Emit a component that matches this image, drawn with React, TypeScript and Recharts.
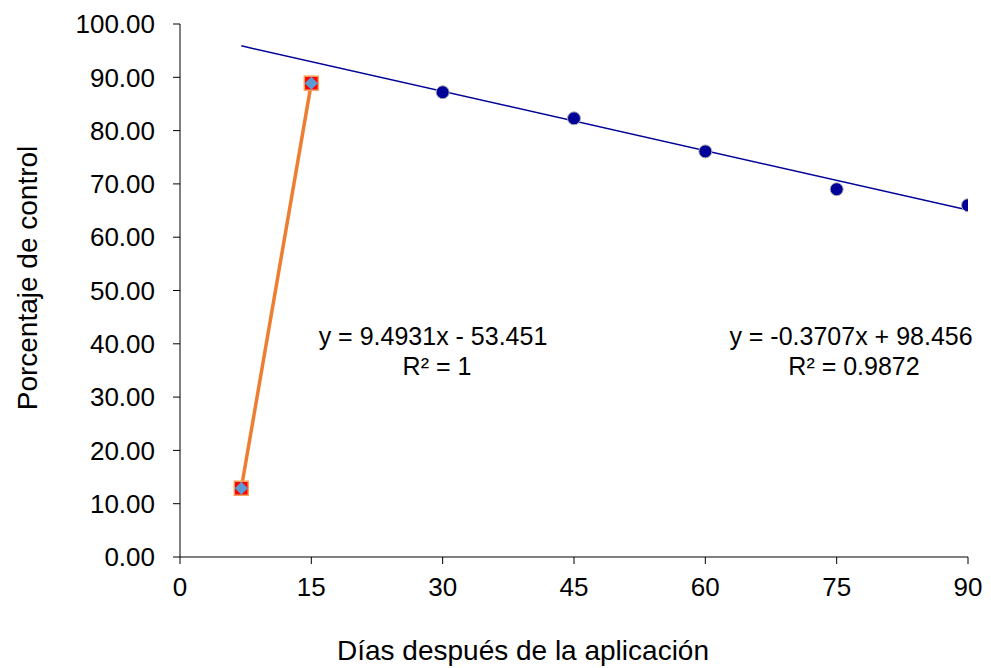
import { ComposedChart, Line, Scatter, XAxis, YAxis, Customized } from 'recharts';

// days after application vs control percentage
const blueDays = [15, 30, 45, 60, 75, 90];
const blueControl = [88.9, 87.2, 82.3, 76.1, 69.0, 66.0];

const orangeDays = [7, 15];
const orangeControl = [12.9, 88.9];

// linear trend for the blue series, drawn between its end points
const trendDays = [7, 90];
const trendControl = [95.9, 65.1];

const xTicks = [0, 15, 30, 45, 60, 75, 90];
const yTicks = [0, 10, 20, 30, 40, 50, 60, 70, 80, 90, 100];

const blueData = blueDays.map((x, i) => ({ x, y: blueControl[i] }));
const orangeData = orangeDays.map((x, i) => ({ x, y: orangeControl[i] }));
const trendData = trendDays.map((x, i) => ({ x, y: trendControl[i] }));

const FONT = '"Liberation Sans", Arial, sans-serif';

const OrangeMarker = (props: any) => {
  const { cx, cy } = props;
  if (cx == null || cy == null) return null;
  return (
    <g>
      <rect x={cx - 7} y={cy - 7} width={14} height={14} fill="#FF0000" stroke="#F7A35C" strokeWidth={1.5} />
      <polygon points={`${cx},${cy - 6.5} ${cx + 6.5},${cy} ${cx},${cy + 6.5} ${cx - 6.5},${cy}`} fill="#5B9BD5" />
    </g>
  );
};

const BlueDot = (props: any) => {
  const { cx, cy } = props;
  if (cx == null || cy == null) return null;
  return <circle cx={cx} cy={cy} r={6.5} fill="#000099" stroke="#b0b0b0" strokeWidth={1} />;
};

const Texts = () => (
  <g fontFamily={FONT} fill="#000">
    <text x={27} y={278} fontSize={28} textAnchor="middle" dominantBaseline="central" transform="rotate(-90 27 278)">
      Porcentaje de control
    </text>
    <text x={523} y={650} fontSize={28} textAnchor="middle" dominantBaseline="central">
      Días después de la aplicación
    </text>
    <text x={433} y={336} fontSize={25} textAnchor="middle" dominantBaseline="central">y = 9.4931x - 53.451</text>
    <text x={437} y={366} fontSize={25} textAnchor="middle" dominantBaseline="central">R² = 1</text>
    <text x={851} y={336} fontSize={25} textAnchor="middle" dominantBaseline="central">y = -0.3707x + 98.456</text>
    <text x={854} y={366} fontSize={25} textAnchor="middle" dominantBaseline="central">R² = 0.9872</text>
  </g>
);

export default function App() {
  return (
    <div style={{ position: 'absolute', left: 0, top: 0, width: 991, height: 668, background: '#fff' }}>
      <ComposedChart width={991} height={668} margin={{ top: 24, right: 23, bottom: 0, left: 0 }}>
        <XAxis
          type="number"
          dataKey="x"
          domain={[0, 90]}
          ticks={xTicks}
          allowDataOverflow
          height={111}
          stroke="#000"
          tickSize={7}
          tickMargin={14}
          tick={{ fontSize: 26, fill: '#000', fontFamily: FONT }}
        />
        <YAxis
          type="number"
          dataKey="y"
          domain={[0, 100]}
          ticks={yTicks}
          width={180}
          stroke="#000"
          tickSize={7}
          tickMargin={18}
          tickFormatter={(v: number) => v.toFixed(2)}
          tick={{ fontSize: 26, fill: '#000', fontFamily: FONT }}
        />
        <Line
          data={trendData}
          dataKey="y"
          type="linear"
          stroke="#000099"
          strokeWidth={1.5}
          dot={false}
          activeDot={false}
          isAnimationActive={false}
        />
        <Scatter data={blueData} dataKey="y" shape={<BlueDot />} isAnimationActive={false} />
        <Line
          data={orangeData}
          dataKey="y"
          type="linear"
          stroke="#ED7D31"
          strokeWidth={3.5}
          dot={<OrangeMarker />}
          activeDot={false}
          isAnimationActive={false}
        />
        <Customized component={Texts} />
      </ComposedChart>
    </div>
  );
}
